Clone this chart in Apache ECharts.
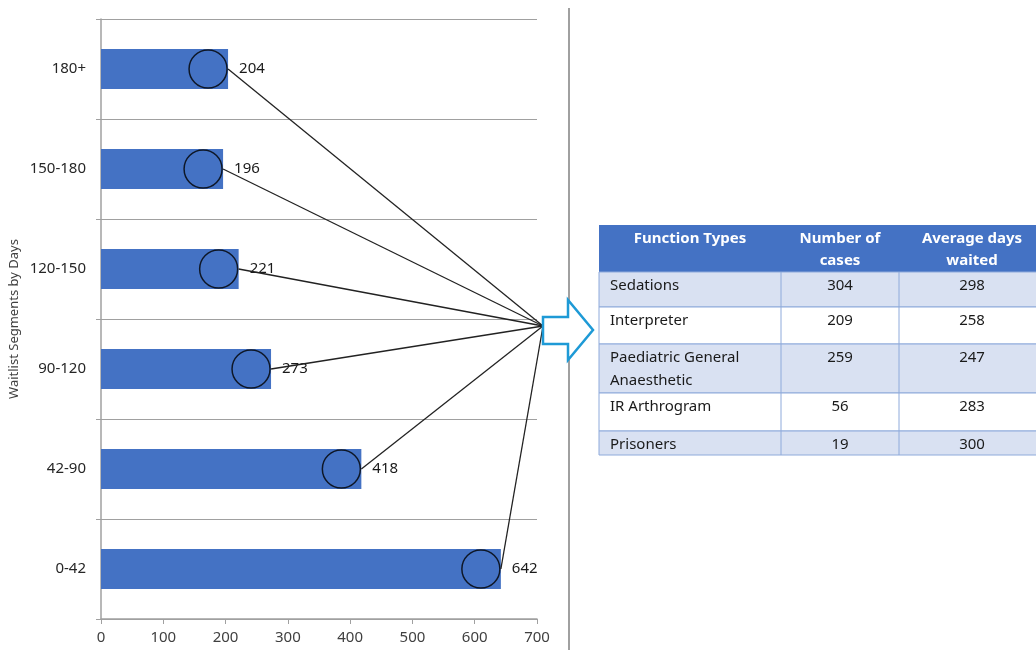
<!DOCTYPE html>
<html>
<head>
<meta charset="utf-8">
<script src="https://cdn.jsdelivr.net/npm/echarts@6/dist/echarts.min.js"></script>
<style>
  html, body { margin: 0; padding: 0; background: #fff; }
  #chart { width: 1036px; height: 650px; }
</style>
</head>
<body>
<div id="chart"></div>
<script>
// waitlist segments, bottom to top
const segments = ['0-42', '42-90', '90-120', '120-150', '150-180', '180+']
const segmentCounts = [642, 418, 273, 221, 196, 204]
const xTicks = [0, 100, 200, 300, 400, 500, 600, 700]

// table on the right
const tableHeaders = ['Function Types', 'Number of\ncases', 'Average days\nwaited']
const functionTypes = ['Sedations', 'Interpreter', 'Paediatric General\nAnaesthetic', 'IR Arthrogram', 'Prisoners']
const numberOfCases = [304, 209, 259, 56, 19]
const averageDaysWaited = [298, 258, 247, 283, 300]

const FONT = 'Noto Sans'
const HUB = [543, 326] // where the connector lines meet

const chart = echarts.init(document.getElementById('chart'))

// table layout
const colX = [599, 781, 899, 1045]
const headerTop = 225
const rowTops = [272, 307, 344, 393, 431, 455]
const tableGraphics = []

tableGraphics.push({
  type: 'rect',
  shape: { x: colX[0], y: headerTop, width: colX[3] - colX[0], height: rowTops[0] - headerTop },
  style: { fill: '#4472c4' },
})
tableHeaders.forEach((h, c) => {
  tableGraphics.push({
    type: 'text',
    x: (colX[c] + colX[c + 1]) / 2,
    y: 228,
    style: {
      text: h, fill: '#fff', font: 'bold 15px ' + FONT,
      align: 'center', verticalAlign: 'top', lineHeight: 22,
    },
  })
})
functionTypes.forEach((name, r) => {
  const top = rowTops[r], bottom = rowTops[r + 1]
  tableGraphics.push({
    type: 'rect',
    shape: { x: colX[0], y: top, width: colX[3] - colX[0], height: bottom - top },
    style: { fill: r % 2 === 0 ? '#d9e1f2' : '#ffffff', stroke: '#8eaadb', lineWidth: 1 },
  })
  const cells = [name, String(numberOfCases[r]), String(averageDaysWaited[r])]
  cells.forEach((t, c) => {
    tableGraphics.push({
      type: 'text',
      x: c === 0 ? colX[0] + 11 : (colX[c] + colX[c + 1]) / 2,
      y: top + 2,
      style: {
        text: t, fill: '#1a1a1a', font: '15px ' + FONT,
        align: c === 0 ? 'left' : 'center', verticalAlign: 'top', lineHeight: 23,
      },
    })
  })
})
// column separators
;[colX[1], colX[2]].forEach(x => {
  tableGraphics.push({
    type: 'line',
    shape: { x1: x, y1: rowTops[0], x2: x, y2: rowTops[rowTops.length - 1] },
    style: { stroke: '#8eaadb', lineWidth: 1 },
  })
})

chart.setOption({
  animation: false,
  textStyle: { fontFamily: FONT },
  grid: { left: 101, right: 499, top: 19, bottom: 31 },
  xAxis: {
    type: 'value',
    min: 0,
    max: xTicks[xTicks.length - 1],
    interval: 100,
    axisLine: { show: true, lineStyle: { color: '#a0a0a0', width: 1.5 } },
    axisTick: { show: true, length: 5, lineStyle: { color: '#a0a0a0' } },
    axisLabel: { color: '#404040', fontSize: 15, margin: 11 },
    splitLine: { show: false },
  },
  yAxis: {
    type: 'category',
    data: segments,
    name: 'Waitlist Segments by Days',
    nameLocation: 'middle',
    nameRotate: 90,
    nameGap: 80,
    nameTextStyle: { color: '#404040', fontSize: 13 },
    axisLine: { show: true, lineStyle: { color: '#a0a0a0', width: 1.5 } },
    axisTick: { show: true, length: 5, lineStyle: { color: '#a0a0a0' } },
    axisLabel: { color: '#262626', fontSize: 15, margin: 15 },
    splitLine: { show: true, lineStyle: { color: '#a0a0a0', width: 1 } },
  },
  series: [
    {
      type: 'bar',
      data: segmentCounts,
      barWidth: '40%',
      itemStyle: { color: '#4472c4' },
      label: { show: true, position: 'right', distance: 11, color: '#1a1a1a', fontSize: 15 },
    },
    {
      type: 'scatter',
      data: segmentCounts.map((v, i) => [v, i]),
      symbol: 'circle',
      symbolSize: 38,
      symbolOffset: [-20, 0],
      itemStyle: { color: 'rgba(0,0,0,0)', borderColor: '#000', borderWidth: 1.5 },
      z: 3,
    },
    {
      type: 'custom',
      data: segmentCounts.map((v, i) => [v, i]),
      encode: { x: 0, y: 1 },
      clip: false,
      z: 4,
      renderItem: (params, api) => {
        const p = api.coord([api.value(0), api.value(1)])
        return {
          type: 'line',
          shape: { x1: p[0], y1: p[1], x2: HUB[0], y2: HUB[1] },
          style: { stroke: '#222', lineWidth: 1.3 },
        }
      },
    },
  ],
  graphic: [
    {
      type: 'line',
      shape: { x1: 569, y1: 8, x2: 569, y2: 650 },
      style: { stroke: '#a0a0a0', lineWidth: 2 },
    },
    {
      type: 'polygon',
      shape: { points: [[543, 317], [568, 317], [568, 300], [593, 330], [568, 360], [568, 344], [543, 344]] },
      style: { fill: '#fff', stroke: '#1e9ad6', lineWidth: 2.5 },
      z: 10,
    },
    ...tableGraphics,
  ],
})
</script>
</body>
</html>
